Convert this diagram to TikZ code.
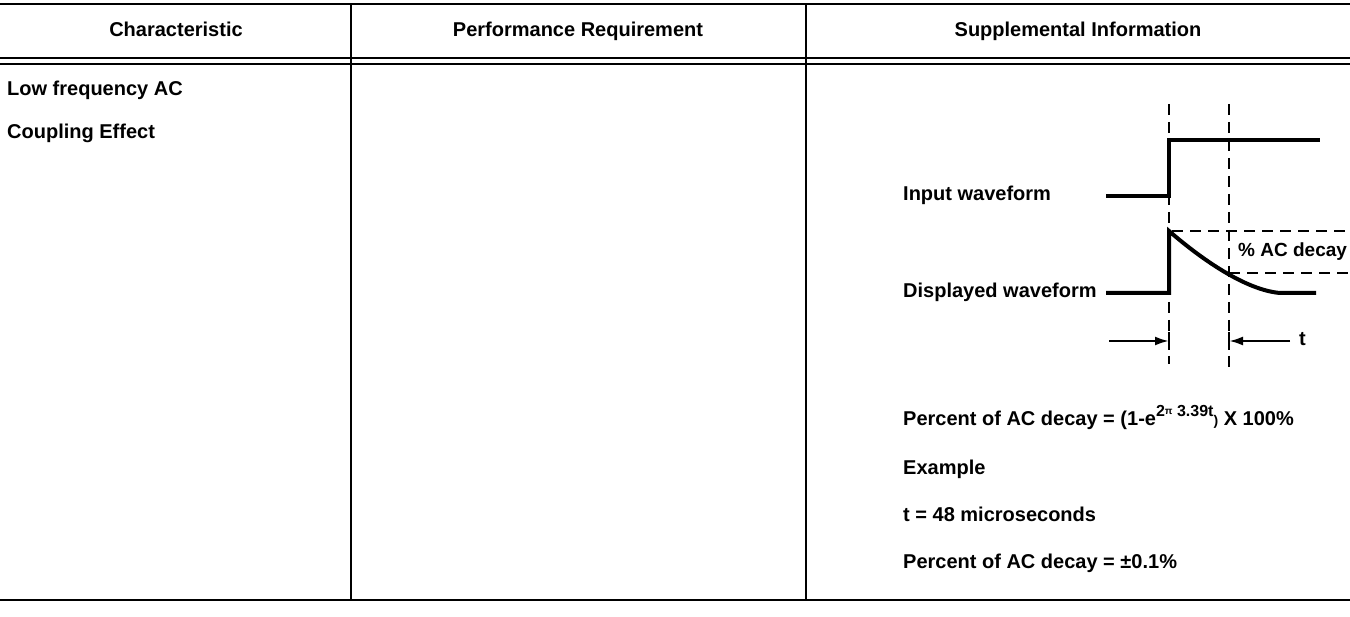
\documentclass[tikz,border=0pt]{standalone}
\usepackage{fontspec}
\setmainfont{Liberation Sans}
\usetikzlibrary{arrows.meta}
\begin{document}
\begin{tikzpicture}[x=1pt,y=-1pt,
  txt/.style={font=\fontsize{20}{24}\selectfont\bfseries, inner sep=0pt, text height=14pt, text depth=4pt},
  lt/.style={txt, anchor=west},
  rule/.style={line width=1.6pt},
  divider/.style={line width=1.3pt},
  wave/.style={line width=4pt, line join=miter},
  guide/.style={line width=2.2pt, dash pattern=on 11pt off 7pt},
  dim/.style={line width=2.4pt, -{Latex[length=14pt,width=9pt]}},
  tick/.style={line width=2.2pt}]
\useasboundingbox (0,0) rectangle (1350,617);
\fill[white] (0,0) rectangle (1350,617);

% table rules
\draw[rule] (0,4) -- (1350,4);
\draw[rule] (0,58) -- (1350,58);
\draw[rule] (0,64) -- (1350,64);
\draw[rule] (0,600) -- (1350,600);
\draw[divider] (351,4) -- (351,600);
\draw[divider] (806,4) -- (806,600);

% header texts
\node[txt] (h1) at (176,32) {Characteristic};
\node[txt] (h2) at (578,32) {Performance Requirement};
\node[txt] (h3) at (1078,32) {Supplemental Information};

% first column
\node[lt] (c1) at (7,91) {Low frequency AC};
\node[lt] (c2) at (7,134) {Coupling Effect};

% waveform labels
\node[lt] (lin) at (903,196) {Input waveform};
\node[lt] (ldis) at (903,293) {Displayed waveform};

% dashed guides
\coordinate (g1t) at (1169,104);
\coordinate (g1b) at (1169,364);
\coordinate (g2t) at (1229,104);
\coordinate (g2b) at (1229,367);
\draw[guide] (g1t) -- (g1b);
\draw[guide] (g2t) -- (g2b);
\coordinate (hp1) at (1172,231);
\coordinate (hp2) at (1350,231);
\coordinate (hq1) at (1229,273);
\coordinate (hq2) at (1350,273);
\draw[guide] (hp1) -- (hp2);
\draw[guide] (hq1) -- (hq2);

% input waveform
\coordinate (i0) at (1106,196);
\coordinate (i1) at (1169,196);
\coordinate (i2) at (1169,140);
\coordinate (i3) at (1320,140);
\draw[wave] (i0) -- (i1) -- (i2) -- (i3);

% displayed waveform
\coordinate (d0) at (1106,293);
\coordinate (d1) at (1169,293);
\coordinate (d2) at (1169,231);
\coordinate (d3) at (1280,293);
\coordinate (d4) at (1316,293);
\draw[wave] (d0) -- (d1) -- (d2) .. controls (1200,258) and (1245,290) .. (d3) -- (d4);

\node[lt, font=\fontsize{19}{23}\selectfont\bfseries] (dec) at (1238,252) {\% AC decay};

% time arrows
\coordinate (a1s) at (1109,341);
\coordinate (a1e) at (1169,341);
\coordinate (a2s) at (1290,341);
\coordinate (a2e) at (1229,341);
\draw[dim] (a1s) -- (a1e);
\draw[dim] (a2s) -- (a2e);
\draw[tick] (1169,332) -- (1169,350);
\draw[tick] (1229,332) -- (1229,350);
\node[lt] (tl) at (1299,341) {t};

% formula and example
\node[lt] (f1) at (903,421) {Percent of AC decay = (1-e\raisebox{9pt}{\fontsize{16}{16}\selectfont 2\raisebox{2pt}{\fontsize{10}{10}\selectfont π}\ 3.39t}{\fontsize{14}{14}\selectfont)} X 100\%};
\node[lt] (f2) at (903,470) {Example};
\node[lt] (f3) at (903,516) {t = 48 microseconds};
\node[lt] (f4) at (903,563) {Percent of AC decay = ±0.1\%};
\end{tikzpicture}
\end{document}
